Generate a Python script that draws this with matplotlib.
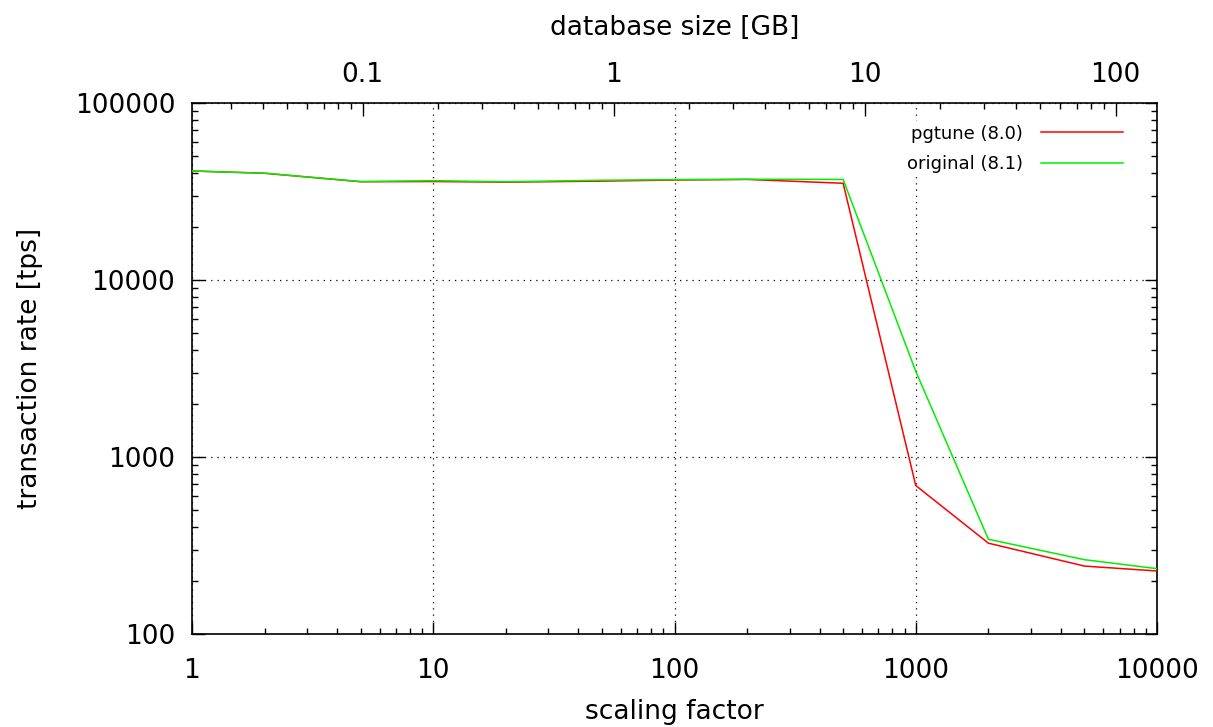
import matplotlib
matplotlib.use("Agg")
import matplotlib.pyplot as plt
from matplotlib.ticker import LogLocator, NullFormatter, FixedLocator, FixedFormatter

# ---- data ----
scale = [1, 2, 5, 10, 20, 50, 100, 200, 500, 1000, 2000, 5000, 10000]
pgtune = [41300, 40100, 35900, 36000, 35700, 36200, 36700, 37000, 35200, 690, 326, 242, 227]
original = [41300, 40100, 36000, 36400, 35900, 36600, 36900, 37100, 37000, 3050, 343, 263, 234]
series_labels = ["pgtune (8.0)", "original (8.1)"]
x_ticks = [1, 10, 100, 1000, 10000]
x_ticklabels = ["1", "10", "100", "1000", "10000"]
y_ticks = [100, 1000, 10000, 100000]
y_ticklabels = ["100", "1000", "10000", "100000"]
gb_ticks = [0.1, 1, 10, 100]
gb_ticklabels = ["0.1", "1", "10", "100"]

plt.rcParams['font.family'] = ['DejaVu Sans']
FS = 19

fig = plt.figure(figsize=(12.13, 7.27), dpi=100)
ax = fig.add_axes([192/1213, 1-634/727, 965/1213, 531/727])

ax.plot(scale, pgtune, color='#ff0000', lw=1.1, label=series_labels[0], zorder=3)
ax.plot(scale, original, color='#00ee00', lw=1.1, label=series_labels[1], zorder=3)

ax.set_xscale('log')
ax.set_yscale('log')
ax.set_xlim(1, 10000)
ax.set_ylim(100, 100000)

ax.xaxis.set_major_locator(FixedLocator(x_ticks))
ax.xaxis.set_major_formatter(FixedFormatter(x_ticklabels))
ax.xaxis.set_minor_locator(LogLocator(base=10, subs=range(2, 10)))
ax.xaxis.set_minor_formatter(NullFormatter())
ax.yaxis.set_major_locator(FixedLocator(y_ticks))
ax.yaxis.set_major_formatter(FixedFormatter(y_ticklabels))
ax.yaxis.set_minor_locator(LogLocator(base=10, subs=range(2, 10)))
ax.yaxis.set_minor_formatter(NullFormatter())

ax.tick_params(which='both', direction='in', top=False, right=True, labelsize=FS, width=1.0, color='black')
ax.tick_params(which='major', length=9)
ax.tick_params(which='minor', length=4.5)
ax.tick_params(axis='x', which='major', pad=17)
ax.tick_params(axis='y', which='major', pad=12)

ax.grid(True, which='major', linestyle=(0, (1, 4)), color='black', lw=0.9)

for s in ax.spines.values():
    s.set_linewidth(1.2)

ax.set_xlabel("scaling factor", fontsize=FS)
ax.set_ylabel("transaction rate [tps]", fontsize=FS)
ax.xaxis.label.set_va('center')
ax.yaxis.label.set_va('center')
ax.xaxis.set_label_coords(0.5, (634-712)/531)
ax.yaxis.set_label_coords((30-192)/965, 0.5)

# top axis: database size
ax2 = ax.twiny()
ax2.set_xscale('log')
dec = 251.0
left = 10**(-1 - (362.7-192)/dec)
right = 10**(2 + (1157-1115.7)/dec)
ax2.set_xlim(left, right)
ax2.xaxis.set_major_locator(FixedLocator(gb_ticks))
ax2.xaxis.set_major_formatter(FixedFormatter(gb_ticklabels))
ax2.xaxis.set_minor_locator(LogLocator(base=10, subs=range(2, 10)))
ax2.xaxis.set_minor_formatter(NullFormatter())
ax2.tick_params(which='both', direction='in', labelsize=FS, width=1.0)
ax2.tick_params(which='major', length=9, pad=11)
ax2.tick_params(which='minor', length=4.5)
ax2.set_xlabel("database size [GB]", fontsize=FS)
ax2.xaxis.label.set_va('center')
ax2.xaxis.set_label_coords(0.5, 1 + (103-28)/531)
for s in ax2.spines.values():
    s.set_visible(False)

leg = ax.legend(loc='upper right', bbox_to_anchor=((1127-192)/965, 1-(121-103)/531),
                fontsize=13, markerfirst=False, frameon=True, fancybox=False,
                edgecolor='none', facecolor='white', framealpha=1,
                borderpad=0.2, borderaxespad=0, handlelength=4.55, handletextpad=1.0,
                labelspacing=0.7)
leg.set_zorder(5)

fig.savefig("out.png", dpi=100)
